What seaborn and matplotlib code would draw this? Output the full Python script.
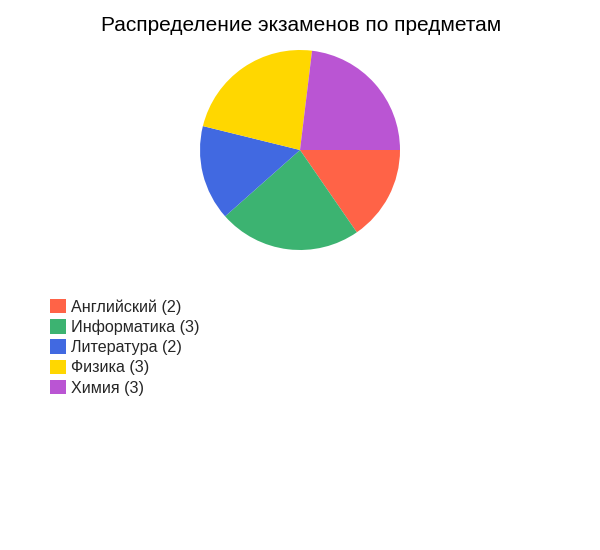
import matplotlib
matplotlib.use("Agg")
import matplotlib.pyplot as plt
import seaborn as sns
from matplotlib.patches import Patch

subjects = ["Английский", "Информатика", "Литература", "Физика", "Химия"]
counts = [2, 3, 2, 3, 3]
colors = ["#FF6347", "#3CB371", "#4169E1", "#FFD700", "#BA55D3"]
title = "Распределение экзаменов по предметам"

sns.set_theme(style="white")
plt.rcParams["font.family"] = ["Liberation Sans", "DejaVu Sans"]

W, H = 600, 550
fig = plt.figure(figsize=(6, 5.5), dpi=100)
fig.patch.set_facecolor("white")

ax = fig.add_axes([200 / W, (H - 250) / H, 200 / W, 200 / H])
ax.pie(counts, colors=colors, startangle=0, counterclock=False,
       wedgeprops=dict(linewidth=0, edgecolor="none"))
ax.set_aspect("equal")
ax.set_xlim(-1, 1)
ax.set_ylim(-1, 1)
ax.axis("off")

fig.text(301 / W, 1 - 31 / H, title, ha="center", va="baseline", fontsize=15, color="black")

labels = [f"{s} ({c})" for s, c in zip(subjects, counts)]
handles = [Patch(facecolor=c, edgecolor="none") for c in colors]
fig.legend(handles, labels, loc="upper left",
           bbox_to_anchor=(50 / W, 1 - 299 / H), bbox_transform=fig.transFigure,
           frameon=False, fontsize=11.6, handlelength=1.0, handleheight=1.0,
           handletextpad=0.28, labelspacing=0.28, borderpad=0, borderaxespad=0)

fig.savefig("out.png", dpi=100, facecolor="white")
